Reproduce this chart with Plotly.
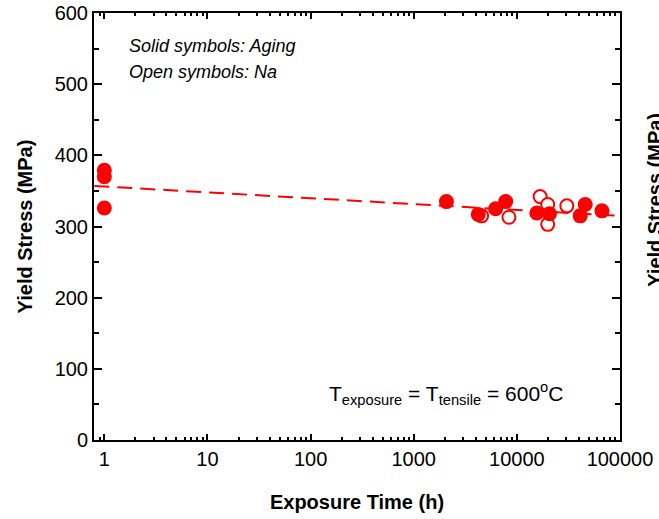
import plotly.graph_objects as go

# Solid symbols: Aging
aging_time = [1, 1, 1, 2075, 4220, 6220, 7790, 15600, 20700, 41100, 46000, 66800]
aging_stress = [379, 370, 326, 335, 317, 325, 335, 319, 318, 315, 331, 322]

# Open symbols: Na
na_time = [4550, 8380, 16800, 19900, 19900, 30500]
na_stress = [315, 313, 342, 331, 303, 329]

# Dashed trend line
fit_time = [0.8, 100000]
fit_stress = [357, 315]

x_tickvals = [1, 10, 100, 1000, 10000, 100000]
x_ticktext = ["1", "10", "100", "1000", "10000", "100000"]
y_tickvals = [0, 100, 200, 300, 400, 500, 600]
y_ticktext = ["0", "100", "200", "300", "400", "500", "600"]

RED = "#FF0000"
FONT = "Liberation Sans, Arial, sans-serif"

fig = go.Figure()
fig.add_trace(go.Scatter(x=fit_time, y=fit_stress, mode="lines",
                         line=dict(color=RED, width=2, dash="15px,8px"),
                         hoverinfo="skip", showlegend=False))
fig.add_trace(go.Scatter(x=na_time, y=na_stress, mode="markers",
                         marker=dict(symbol="circle", size=13, color="white",
                                     line=dict(color=RED, width=2)),
                         showlegend=False))
fig.add_trace(go.Scatter(x=aging_time, y=aging_stress, mode="markers",
                         marker=dict(symbol="circle", size=15, color=RED,
                                     line=dict(width=0)),
                         showlegend=False))

axis_common = dict(showline=True, linecolor="black", linewidth=2, mirror="ticks",
                   ticks="inside", tickcolor="black", tickwidth=2,
                   showgrid=False, zeroline=False, automargin=False,
                   ticklabeloverflow="allow",
                   tickfont=dict(family=FONT, size=20, color="black"))

fig.update_xaxes(type="log", range=[-0.1, 5.0], tickvals=x_tickvals, ticktext=x_ticktext,
                 ticklen=6,
                 minor=dict(ticks="inside", ticklen=3, tickcolor="black", tickwidth=2,
                            dtick="D1", showgrid=False),
                 title=dict(text="<b>Exposure Time (h)</b>", standoff=26,
                            font=dict(family=FONT, size=20, color="black")),
                 **axis_common)
fig.update_yaxes(range=[0, 600], tickvals=y_tickvals, ticktext=y_ticktext,
                 ticklen=8,
                 minor=dict(ticks="inside", ticklen=5, tickcolor="black", tickwidth=2,
                            dtick=50, showgrid=False),
                 title=dict(text="<b>Yield Stress (MPa)</b>", standoff=17,
                            font=dict(family=FONT, size=20, color="black")),
                 **axis_common)

fig.add_annotation(xref="paper", yref="paper", x=0.063, y=0.923, xanchor="left", yanchor="middle",
                   text="<i>Solid symbols: Aging</i>", showarrow=False, align="left",
                   font=dict(family=FONT, size=18, color="black"))
fig.add_annotation(xref="paper", yref="paper", x=0.063, y=0.862, xanchor="left", yanchor="middle",
                   text="<i>Open symbols: Na</i>", showarrow=False, align="left",
                   font=dict(family=FONT, size=18, color="black"))
fig.add_annotation(xref="paper", yref="paper", x=0.443, y=0.11, xanchor="left", yanchor="middle",
                   text="T<sub>exposure</sub> = T<sub>tensile</sub> = 600<sup>o</sup>C",
                   showarrow=False, font=dict(family=FONT, size=21, color="black"))
# partial axis title of the neighbouring panel (clipped at the right edge)
fig.add_annotation(xref="paper", yref="paper", x=1.066, y=0.562, xanchor="center", yanchor="middle",
                   text="<b>Yield Stress (MPa)</b>", textangle=-90, showarrow=False,
                   font=dict(family=FONT, size=20, color="black"))

fig.update_layout(width=659, height=519, margin=dict(l=94, r=39, t=13, b=79),
                  plot_bgcolor="white", paper_bgcolor="white",
                  font=dict(family=FONT, color="black"))

# remove the default page margin so the figure fills the window exactly
fig.write_html("out.html", config={"displayModeBar": False},
               post_script="document.body.style.margin='0';document.body.style.overflow='hidden';")
